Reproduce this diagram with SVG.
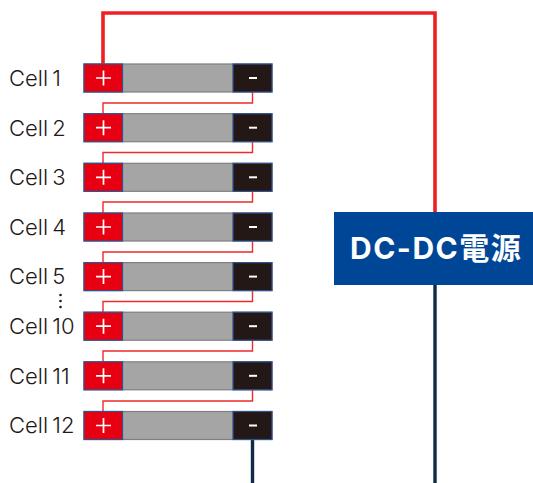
<svg xmlns="http://www.w3.org/2000/svg" width="533" height="483" viewBox="0 0 533 483">
<style>
.label{font-family:"Inter","Liberation Sans",sans-serif;font-size:22px;font-weight:300;fill:#231815;word-spacing:-2px}
.body{fill:#a5a5a5;stroke:#7f7f7f;stroke-width:1.2}
.pos{fill:#e60012;stroke:#2f528f;stroke-width:1.2}
.neg{fill:#231815;stroke:#2f528f;stroke-width:1.2}
.sign{stroke:#fff;fill:none}
.link{fill:none;stroke:#ee2a2a;stroke-width:1.4}
.main{fill:none;stroke:#ee2024;stroke-width:3.6}
.ret{fill:none;stroke:#0f2a44;stroke-width:3.4}
</style>
<defs>
<g id="cell">
<rect class="body" x="84" y="0" width="188" height="28"/>
<rect class="pos" x="84" y="0" width="38.500" height="28"/>
<rect class="neg" x="233" y="0" width="39" height="28"/>
<path class="sign" stroke-width="1.700" d="M96 14h15M103.500 6.500v15"/>
<path class="sign" stroke-width="2" d="M249 14h8"/>
</g>
</defs>
<g id="connectors">
<path class="main" d="M103 64V13H435V212"/>
<path class="ret" d="M435 285V483"/>
<path class="ret" d="M252.500 440V483"/>
<path class="link" d="M252.500 92V103H103V114"/>
<path class="link" d="M252.500 142V152.500H103V163"/>
<path class="link" d="M252.500 191V202H103V213"/>
<path class="link" d="M252.500 241V252H103V263"/>
<path class="link" d="M252.500 291V301.500H103V312"/>
<path class="link" d="M252.500 340V351H103V362"/>
<path class="link" d="M252.500 390V401H103V411"/>
</g>
<g id="cell1"><text class="label" x="9" y="86">Cell 1</text><use href="#cell" y="64"/></g>
<g id="cell2"><text class="label" x="9" y="136">Cell 2</text><use href="#cell" y="113.700"/></g>
<g id="cell3"><text class="label" x="9" y="185">Cell 3</text><use href="#cell" y="163.300"/></g>
<g id="cell4"><text class="label" x="9" y="235">Cell 4</text><use href="#cell" y="213"/></g>
<g id="cell5"><text class="label" x="9" y="284">Cell 5</text><use href="#cell" y="262.600"/></g>
<g id="dots" fill="#231815"><circle cx="60.500" cy="295" r="1.300"/><circle cx="60.500" cy="301" r="1.300"/><circle cx="60.500" cy="307" r="1.300"/></g>
<g id="cell10"><text class="label" x="9" y="334">Cell 10</text><use href="#cell" y="312.200"/></g>
<g id="cell11"><text class="label" x="9" y="384">Cell 11</text><use href="#cell" y="361.800"/></g>
<g id="cell12"><text class="label" x="9" y="433">Cell 12</text><use href="#cell" y="411.500"/></g>
<g id="dcdc">
<rect x="334" y="212" width="199" height="73" fill="#004696"/>
<text x="350" y="259" font-family="Inter,'Noto Sans CJK JP',sans-serif" font-size="30" font-weight="700" fill="#fff" letter-spacing="1.500">DC-DC電源</text>
</g>
</svg>
